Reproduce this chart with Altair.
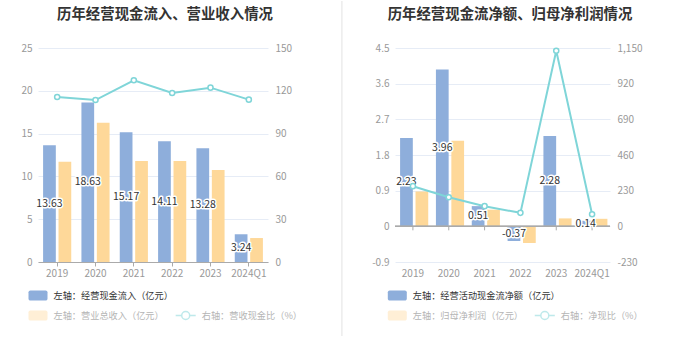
import altair as alt
import pandas as pd

# ---------------- data ----------------
years = ["2019", "2020", "2021", "2022", "2023", "2024Q1"]

# left panel
cash_in = [13.63, 18.63, 15.17, 14.11, 13.28, 3.24]          # 经营现金流入（亿元）
revenue = [11.70, 16.27, 11.80, 11.80, 10.75, 2.80]          # 营业总收入（亿元）
cash_rev_ratio = [115.7, 113.5, 127.4, 118.5, 122.2, 113.8]  # 营收现金比（%）

# right panel
net_cf = [2.23, 3.96, 0.51, -0.37, 2.28, 0.14]               # 经营活动现金流净额（亿元）
net_profit = [0.88, 2.16, 0.42, -0.42, 0.20, 0.19]           # 归母净利润（亿元）
net_ratio = [259, 188, 130, 87, 1132, 78]                    # 净现比（%）

left_ticks = [0, 5, 10, 15, 20, 25]
left_ticks_r = [0, 30, 60, 90, 120, 150]
right_ticks = [-0.9, 0, 0.9, 1.8, 2.7, 3.6, 4.5]
right_ticks_r = [-230, 0, 230, 460, 690, 920, 1150]

BLUE = "#8eaedb"
YELLOW = "#fed899"
TEAL = "#7fd5d8"
FONT = "Noto Sans CJK SC"

RECT_PATH = ("M-0.8,-0.53H0.8A0.2,0.2 0 0 1 1,-0.33V0.33A0.2,0.2 0 0 1 0.8,0.53"
             "H-0.8A0.2,0.2 0 0 1 -1,0.33V-0.33A0.2,0.2 0 0 1 -0.8,-0.53Z")
LINE_PATH = ("M-1,0H-0.4M0.4,0H1M-0.4,0A0.4,0.4 0 1 1 0.4,0A0.4,0.4 0 1 1 -0.4,0Z")


def legend(x, y, path, size, color, opacity):
    return alt.Legend(orient="none", legendX=x, legendY=y, title=None,
                      symbolType=path, symbolSize=size, labelFont=FONT,
                      labelFontSize=9.2, labelColor=color, labelOffset=5,
                      padding=0, symbolOpacity=opacity, labelLimit=0)


def panel(bar1, bar2, ratio, names, ldom, lticks, rdom, rticks, width,
          title, title_dx, title_off, leg_x, line_leg_x, zero_axis, is_left):
    df = pd.DataFrame({
        "year": years,
        "b1": bar1,
        "b2": bar2,
        "ratio": ratio,
        "mid": [v / 2 for v in bar1],
        "lbl": [f"{v:.2f}" for v in bar1],
        "n1": names[0], "n2": names[1], "n3": names[2],
        "o1": "a", "o2": "b",
    })
    base = alt.Chart(df)
    x_axis = alt.Axis(title=None, labelAngle=0, labelColor="#999", labelFont=FONT,
                      labelFontSize=10, domain=not zero_axis, ticks=not zero_axis,
                      domainColor="#aaa", tickColor="#aaa", tickSize=4,
                      labelPadding=2 if not zero_axis else 6, grid=False)
    X = alt.X("year:N", sort=years, axis=x_axis,
              scale=alt.Scale(paddingInner=0, paddingOuter=0))
    off_scale = alt.Scale(domain=["a", "b"], paddingInner=0.175, paddingOuter=0.33)
    fmt = "replace(format(datum.value, ','), '\u2212', '-')"
    yl_axis = alt.Axis(title=None, values=lticks, tickCount=len(lticks) + 1,
                       labelColor="#999", labelFont=FONT,
                       labelFontSize=10, domain=False, ticks=False, labelPadding=6,
                       gridColor="#e6ecf6", labelExpr=fmt, labelOverlap=False)
    yl_scale = alt.Scale(domain=ldom, nice=False, zero=False)

    blue = base.mark_bar(color=BLUE).encode(
        x=X, xOffset=alt.XOffset("o1:N", scale=off_scale),
        y=alt.Y("b1:Q", scale=yl_scale, axis=yl_axis),
        color=alt.Color("n1:N", scale=alt.Scale(domain=[names[0]], range=[BLUE]),
                        legend=legend(leg_x, 237, RECT_PATH, 361, "#333", 1)),
    )
    yellow = base.mark_bar(color=YELLOW).encode(
        x=X, xOffset=alt.XOffset("o2:N", scale=off_scale),
        y=alt.Y("b2:Q", scale=yl_scale, axis=yl_axis),
        color=alt.Color("n2:N", scale=alt.Scale(domain=[names[1]], range=[YELLOW]),
                        legend=legend(leg_x, 257, RECT_PATH, 361, "#b5b5b5", 0.4)),
    )
    txt_enc = dict(x=X, xOffset=alt.XOffset("o1:N", scale=off_scale),
                   y=alt.Y("mid:Q", scale=yl_scale, axis=yl_axis), text="lbl:N")
    halo = base.mark_text(font=FONT, fontSize=10.5, stroke="white", strokeWidth=3,
                          strokeJoin="round", fill="white").encode(**txt_enc)
    lab = base.mark_text(font=FONT, fontSize=10.5, fill="#333").encode(**txt_enc)

    layers = [blue, yellow]
    if zero_axis:
        zero = base.mark_rule(color="#aaa", strokeWidth=1).encode(
            y=alt.datum(0))
        tks = base.mark_rule(color="#aaa", strokeWidth=1, y2Offset=4).encode(
            x=X, y=alt.datum(0), y2=alt.datum(0))
        layers += [zero, tks]
    layers += [halo, lab]
    if is_left:
        # divider between the two panels
        div = base.mark_rule(color="#eeeeee", strokeWidth=1).encode(
            x=alt.value(303.7), y=alt.value(-47), y2=alt.value(288))
        # invisible frame edge: fixes the canvas' left/top/bottom edges
        edge = base.mark_rule(color="white", strokeWidth=0.01).encode(
            x=alt.value(-37.95), y=alt.value(-46.95), y2=alt.value(301.95))
        layers += [div, edge]
    else:
        edge = base.mark_rule(color="white", strokeWidth=0.01).encode(
            x=alt.value(284.95), y=alt.value(0), y2=alt.value(10))
        layers.append(edge)
    left = alt.layer(*layers).resolve_scale(color="independent")

    yr_axis = alt.Axis(title=None, orient="right", values=rticks,
                       tickCount=len(rticks) + 1, labelColor="#999",
                       labelFont=FONT, labelFontSize=10, domain=False, ticks=False,
                       grid=False, labelPadding=7, labelExpr=fmt, labelOverlap=False)
    yr_scale = alt.Scale(domain=rdom, nice=False, zero=False)
    line = base.mark_line(strokeWidth=2).encode(
        x=X, y=alt.Y("ratio:Q", scale=yr_scale, axis=yr_axis),
        stroke=alt.Stroke("n3:N", scale=alt.Scale(domain=[names[2]], range=[TEAL]),
                          legend=legend(line_leg_x, 256.5, LINE_PATH, 400, "#b5b5b5", 0.5)),
    )
    pts = base.mark_point(filled=True, fill="white", stroke=TEAL, strokeWidth=1.5,
                          size=26, opacity=1).encode(
        x=X, y=alt.Y("ratio:Q", scale=yr_scale, axis=yr_axis))
    right = alt.layer(line, pts)

    return alt.layer(left, right).resolve_scale(
        y="independent", color="independent", stroke="independent"
    ).properties(
        width=width, height=214,
        title=alt.TitleParams(title, anchor="middle", font=FONT, fontSize=14.4,
                              fontWeight="bold", color="#333", dx=title_dx,
                              offset=title_off),
    )


left_panel = panel(cash_in, revenue, cash_rev_ratio,
                   ["左轴：经营现金流入（亿元）", "左轴：营业总收入（亿元）", "右轴：营收现金比（%）"],
                   [0, 25], left_ticks, [0, 150], left_ticks_r, 230,
                   "历年经营现金流入、营业收入情况", 12, -22, -10.5, 136.7, False, True)
right_panel = panel(net_cf, net_profit, net_ratio,
                    ["左轴：经营活动现金流净额（亿元）", "左轴：归母净利润（亿元）", "右轴：净现比（%）"],
                    [-0.9, 4.5], right_ticks, [-230, 1150], right_ticks_r, 215,
                    "历年经营现金流净额、归母净利润情况", 7.5, 21, -8.2, 138.8, True, False)

chart = alt.hconcat(left_panel, right_panel, spacing=127, bounds="flush").properties(
    padding=0,
    background="white",
).configure_view(stroke=None)

chart.save("out.html", embed_options={"renderer": "svg", "actions": False})
